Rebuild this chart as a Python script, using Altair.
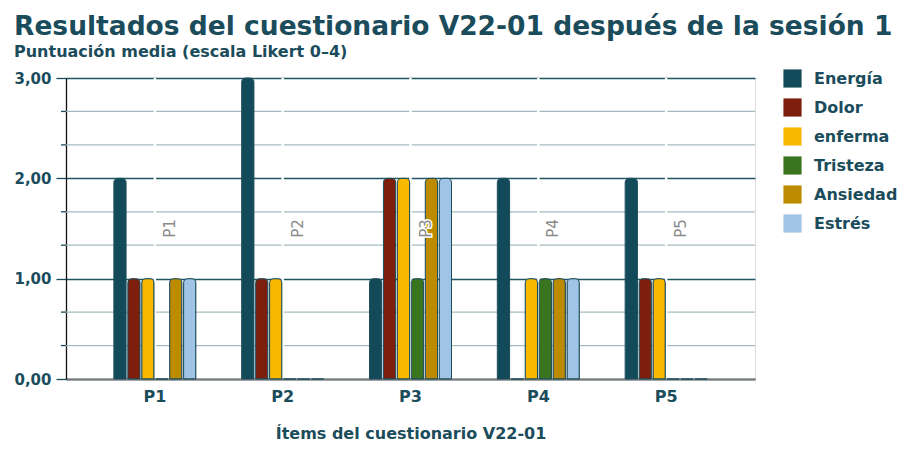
import altair as alt
import pandas as pd

items = ["P1", "P2", "P3", "P4", "P5"]
series = ["Energía", "Dolor", "enferma", "Tristeza", "Ansiedad", "Estrés"]
colors = ["#134a59", "#7e1f0e", "#f8b800", "#3a741f", "#bd8b00", "#9fc4e6"]
energia = [2, 3, 1, 2, 2]
dolor = [1, 1, 2, 0, 1]
enferma = [1, 1, 2, 1, 1]
tristeza = [0, 0, 1, 1, 0]
ansiedad = [1, 0, 2, 1, 0]
estres = [1, 0, 2, 1, 0]
major_ticks = [0, 1, 2, 3]
minor_ticks = [1 / 3, 2 / 3, 4 / 3, 5 / 3, 7 / 3, 8 / 3]

values = [energia, dolor, enferma, tristeza, ansiedad, estres]
rows = []
for s, vals in zip(series, values):
    for it, v in zip(items, vals):
        rows.append({"item": it, "serie": s, "valor": v})
df = pd.DataFrame(rows)
df_items = pd.DataFrame({"item": items})
df_minor = pd.DataFrame({"v": minor_ticks})

DARK = "#1b4c5b"
FONT = "DejaVu Sans"
XTITLE = "Ítems del cuestionario V22-01"

x_enc = alt.X(
    "item:N", sort=items, title=XTITLE,
    scale=alt.Scale(paddingInner=0.33, paddingOuter=0.36),
    axis=alt.Axis(
        ticks=False, labelAngle=0, labelAlign="center", labelBaseline="top",
        labelFontSize=16, labelFontWeight="bold",
        labelColor=DARK, labelFont=FONT, labelPadding=9, bandPosition=0.5,
        domainColor="#7a7a7a", domainWidth=2, grid=False,
        titleFontSize=16, titleFontWeight="bold", titleColor=DARK,
        titleFont=FONT, titlePadding=21,
    ),
)

y_enc = alt.Y(
    "valor:Q",
    scale=alt.Scale(domain=[0, 3], nice=False),
    axis=alt.Axis(
        values=major_ticks, title=None, grid=True, labelOverlap=False,
        labelExpr="replace(format(datum.value, '.2f'), '.', ',')",
        gridColor="#1f5664", gridWidth=1.3,
        tickSize=10, tickColor=DARK, tickWidth=1.3,
        domainColor="#111111", domainWidth=1.3,
        labelFontSize=15, labelFontWeight="bold", labelColor=DARK,
        labelFont=FONT, labelPadding=5,
    ),
)

minor_grid = alt.Chart(df_minor).mark_rule(color="#a3bbc0", strokeWidth=1.3).encode(
    y=alt.Y("v:Q", title=None),
)

minor_tick = alt.Chart(df_minor).mark_rule(color=DARK, strokeWidth=1.3).encode(
    y=alt.Y("v:Q", title=None),
    x=alt.value(-5),
    x2=alt.value(0),
)

gaps = alt.Chart(df_items).mark_rule(color="white", strokeWidth=2.5).encode(
    x=alt.X("item:N", sort=items, title=XTITLE),
    y=alt.datum(0.03),
    y2=alt.datum(3),
)

bars = alt.Chart(df).mark_bar(
    stroke="#1d4d5b", strokeWidth=1,
    cornerRadiusTopLeft=4, cornerRadiusTopRight=4,
).encode(
    x=x_enc,
    xOffset=alt.XOffset("serie:N", sort=series,
                        scale=alt.Scale(paddingInner=0.12, paddingOuter=0.13)),
    y=y_enc,
    color=alt.Color(
        "serie:N", sort=series,
        scale=alt.Scale(domain=series, range=colors),
        legend=alt.Legend(
            title=None, orient="none", legendX=717, legendY=-9,
            symbolType="square", symbolSize=330, symbolStrokeWidth=0,
            labelFontSize=16, labelFontWeight="bold", labelColor=DARK,
            labelFont=FONT, rowPadding=10, labelOffset=12,
        ),
    ),
)

halo = alt.Chart(df_items).mark_text(
    angle=270, color="white", stroke="white", strokeWidth=3,
    fontSize=15, font=FONT, xOffset=15,
).encode(
    x=alt.X("item:N", sort=items, title=XTITLE),
    y=alt.datum(1.5),
    text="item:N",
)

labels = alt.Chart(df_items).mark_text(
    angle=270, color="#8a8a8a", fontSize=15, font=FONT, xOffset=15,
).encode(
    x=alt.X("item:N", sort=items, title=XTITLE),
    y=alt.datum(1.5),
    text="item:N",
)

chart = alt.layer(minor_grid, minor_tick, gaps, bars, halo, labels).properties(
    width=689, height=301,
    title=alt.Title(
        text="Resultados del cuestionario V22-01 después de la sesión 1",
        subtitle="Puntuación media (escala Likert 0–4)",
        anchor="start", font=FONT, fontSize=26.5, fontWeight="bold", color=DARK,
        subtitleFont=FONT, subtitleFontSize=16, subtitleFontWeight="bold",
        subtitleColor=DARK, subtitlePadding=4, offset=9,
    ),
).configure_view(stroke=None).configure(background="white")

chart.save("out.html", embed_options={"renderer": "svg", "actions": False})
